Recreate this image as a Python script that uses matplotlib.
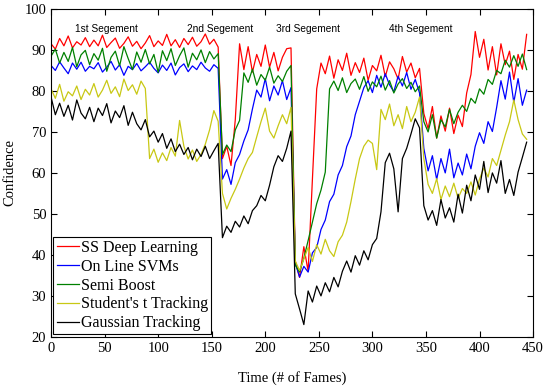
import numpy as np
import matplotlib
matplotlib.use('Agg')
import matplotlib.pyplot as plt

# frame index, every 4th frame
frames = np.arange(0, 448, 4)

ss_deep = [91.5, 90.2, 92.8, 91.0, 93.4, 90.5, 92.0, 91.2, 93.0, 90.8,
           92.4, 91.0, 93.6, 90.6, 91.8, 92.9, 90.4, 91.6, 93.2, 90.9,
           92.1, 90.3, 91.7, 93.5, 90.8, 92.2, 91.1, 93.8, 91.0, 92.5,
           90.6, 92.8, 91.3, 93.1, 90.9, 92.0, 93.9, 91.4, 92.6, 90.7,
           63.5, 66.5, 61.8, 73.0, 91.5,
           85.2, 90.8, 84.6, 88.9, 86.0, 91.2, 85.8, 89.4, 84.9, 88.2, 90.3, 90.5,
           38.5, 34.5, 42.0, 36.0, 58.5, 80.5,
           86.8, 84.2, 88.5, 83.1, 87.6, 85.0, 89.2, 83.8, 86.9, 84.5,
           88.0, 82.6, 86.2, 84.9, 88.7, 83.5, 87.1, 85.4, 82.9, 88.4,
           84.6, 86.8, 83.2, 85.5,
           74.5, 70.8, 76.2, 68.5, 73.9, 70.2, 75.8, 69.6, 74.1, 71.3,
           79.5, 84.0, 94.5, 88.2, 92.6, 85.1, 90.8, 83.9, 91.5, 86.4,
           89.7, 82.8, 88.9, 85.3, 93.8]

svm = [86.2, 85.0, 87.1, 85.6, 84.2, 86.8, 85.3, 87.0, 84.8, 86.0,
       85.4, 86.9, 84.6, 85.8, 87.2, 85.1, 86.4, 83.8, 86.0, 85.2,
       86.7, 84.9, 85.9, 87.0, 85.5, 84.4, 86.3, 85.0, 86.8, 83.9,
       85.7, 86.6, 84.7, 86.1, 85.2, 87.0, 85.6, 84.8, 86.4, 85.5,
       58.5, 60.8, 57.2, 62.5, 64.5, 67.8, 70.5, 75.6, 80.2, 78.5,
       83.0, 77.6, 81.2, 79.0, 82.5, 77.9, 80.8,
       38.0, 34.6, 37.2, 35.8, 40.5, 41.8, 46.2, 48.5, 53.0, 54.8,
       59.5, 61.8, 66.4, 69.0, 74.2, 77.5, 80.8,
       82.5, 79.6, 83.8, 80.9, 84.2, 81.5, 79.8, 83.6, 81.2, 84.5,
       80.4, 82.8, 79.5,
       66.0, 60.5, 64.2, 58.4, 63.5, 60.0, 65.8, 58.8, 62.4, 59.5,
       64.6, 61.0, 66.5, 69.8, 67.2, 72.5, 70.1, 76.0, 82.5, 78.0,
       84.6, 77.2, 83.0, 76.5, 80.2]

semi_boost = [88.5, 90.2, 86.8, 89.4, 87.2, 90.6, 85.9, 88.8, 89.9, 86.4,
              89.1, 87.5, 90.4, 84.8, 88.2, 89.7, 86.1, 90.8, 87.9, 85.2,
              89.5, 87.0, 90.1, 86.6, 88.9, 84.5, 89.8, 87.4, 90.3, 86.2,
              88.6, 90.5, 85.8, 89.2, 87.6, 90.0, 86.9, 89.6, 87.8, 89.1,
              64.5, 66.8, 65.2, 70.5, 72.8,
              84.4, 82.1, 85.3, 81.4, 84.0, 82.6, 85.8, 81.9, 83.7, 82.3, 84.8, 86.2,
              37.5, 35.8, 39.2, 43.5, 48.0, 52.5, 55.8, 60.2, 80.5,
              82.4, 80.1, 83.2, 79.6, 81.8, 82.9, 80.4, 83.5, 79.9, 82.2,
              81.0, 83.6, 80.2, 82.5, 79.5, 81.7, 83.0, 80.6, 82.1, 79.8, 81.2,
              72.5, 70.0, 74.2, 68.5, 73.0, 71.2, 75.5, 72.0, 74.8, 76.5,
              75.0, 78.2, 77.0, 80.5, 79.2, 82.8, 81.6, 85.0, 84.2, 87.5,
              85.8, 88.6, 86.0, 89.0, 85.2]

student_t = [80.5, 78.2, 81.6, 77.5, 79.8, 78.8, 81.2, 77.9, 80.4, 79.0,
             81.8, 78.5, 80.2, 82.6, 79.4, 81.0, 78.6, 82.9, 80.1, 81.5,
             79.2, 82.4, 80.6,
             63.5, 65.8, 62.6, 64.9, 63.0, 66.2, 64.1, 72.8, 66.5, 63.4,
             65.6, 62.8, 64.5, 67.0, 70.5, 75.2, 72.6,
             55.0, 51.2, 53.8, 56.0, 58.5, 61.2, 63.5, 65.0, 68.8, 72.5,
             75.8, 70.2, 68.5, 71.5, 74.2, 72.0, 76.0,
             38.5, 36.2, 39.0, 41.8, 38.4, 42.5, 40.2, 43.8, 41.0, 39.6,
             43.2, 44.8, 48.0, 53.0, 58.5, 63.5,
             66.5, 68.0, 67.2, 60.8, 75.5, 73.0, 76.8, 71.5, 74.2, 70.8,
             76.2, 72.5, 74.8, 78.5,
             63.5, 57.2, 55.0, 58.6, 53.5, 56.8, 54.2, 57.5, 53.8, 56.2,
             55.0, 57.8, 54.6, 58.5, 61.2, 59.0, 63.5, 61.8, 65.5, 69.2,
             72.5, 77.8, 73.0, 69.5, 68.2]

gaussian = [78.5, 74.2, 77.0, 73.8, 76.5, 72.9, 77.8, 74.6, 73.2, 76.0,
            72.5, 75.8, 74.0, 76.9, 72.2, 75.1, 73.5, 76.4, 71.6, 74.8,
            72.0, 70.5, 73.0, 68.8, 70.2, 67.5, 69.6, 66.0, 68.3, 65.2,
            67.0, 64.5, 66.2, 63.2, 65.8, 64.0, 66.5, 63.5, 65.4, 67.2,
            44.2, 47.0, 45.5, 48.2, 46.8, 49.5, 47.6, 50.8, 52.0, 54.5,
            53.2, 57.0, 61.5, 64.2, 62.8, 66.0, 70.2,
            30.5, 26.8, 23.0, 31.2, 28.5, 32.4, 30.0, 33.2, 31.0, 34.5,
            32.2, 36.0, 38.5, 35.8, 39.8, 37.5, 41.0, 38.8, 42.5, 44.0,
            50.5, 62.5, 64.8, 61.0, 50.5, 63.5, 66.0, 69.5, 73.2, 71.0,
            52.0, 48.5, 50.8, 47.2, 53.5, 49.0, 51.5, 48.0, 54.8, 50.2,
            57.0, 53.2, 59.5, 56.0, 62.8, 55.2, 60.0, 57.5, 63.0, 55.0,
            58.4, 54.5, 60.2, 63.8, 67.5]

labels = ['SS Deep Learning', 'On Line SVMs', 'Semi Boost',
          "Student's t Tracking", 'Gaussian Tracking']
colors = ['#ff0000', '#0000ff', '#008000', '#c8c814', '#000000']
segments = ['1st Segement', '2nd Segement', '3rd Segement', '4th Segement']
segment_x = [52, 158, 240, 345]

fig = plt.figure(figsize=(5.49, 3.89), dpi=100)
ax = fig.add_axes([0.093, 0.134, 0.878, 0.843])

for series, lab, col in zip([ss_deep, svm, semi_boost, student_t, gaussian], labels, colors):
    ax.plot(frames, series, color=col, linewidth=0.9, label=lab)

for txt, xs in zip(segments, segment_x):
    ax.text(xs, 95.2, txt, ha='center', va='center', fontsize=7.3, family='Liberation Sans')

ax.set_xlim(0, 450)
ax.set_ylim(20, 100)
ax.set_xticks(range(0, 451, 50))
ax.set_yticks(range(20, 101, 10))
ax.tick_params(direction='in', top=True, right=True, length=4, labelsize=10.5)
for lbl in ax.get_xticklabels() + ax.get_yticklabels():
    lbl.set_family('Liberation Serif')
ax.set_xlabel('Time (# of Fames)', family='Liberation Serif', fontsize=10.5, labelpad=12)
ax.set_ylabel('Confidence', family='Liberation Serif', fontsize=10.5, labelpad=6)

leg = ax.legend(loc='lower left', prop={'family': 'Liberation Serif', 'size': 11.5},
                handlelength=1.4, handletextpad=0.1, borderpad=0.2, labelspacing=0.18,
                borderaxespad=0.15, fancybox=False, framealpha=1)
leg.get_frame().set_edgecolor('black')
leg.get_frame().set_linewidth(0.8)

fig.savefig('out.png', dpi=100)
